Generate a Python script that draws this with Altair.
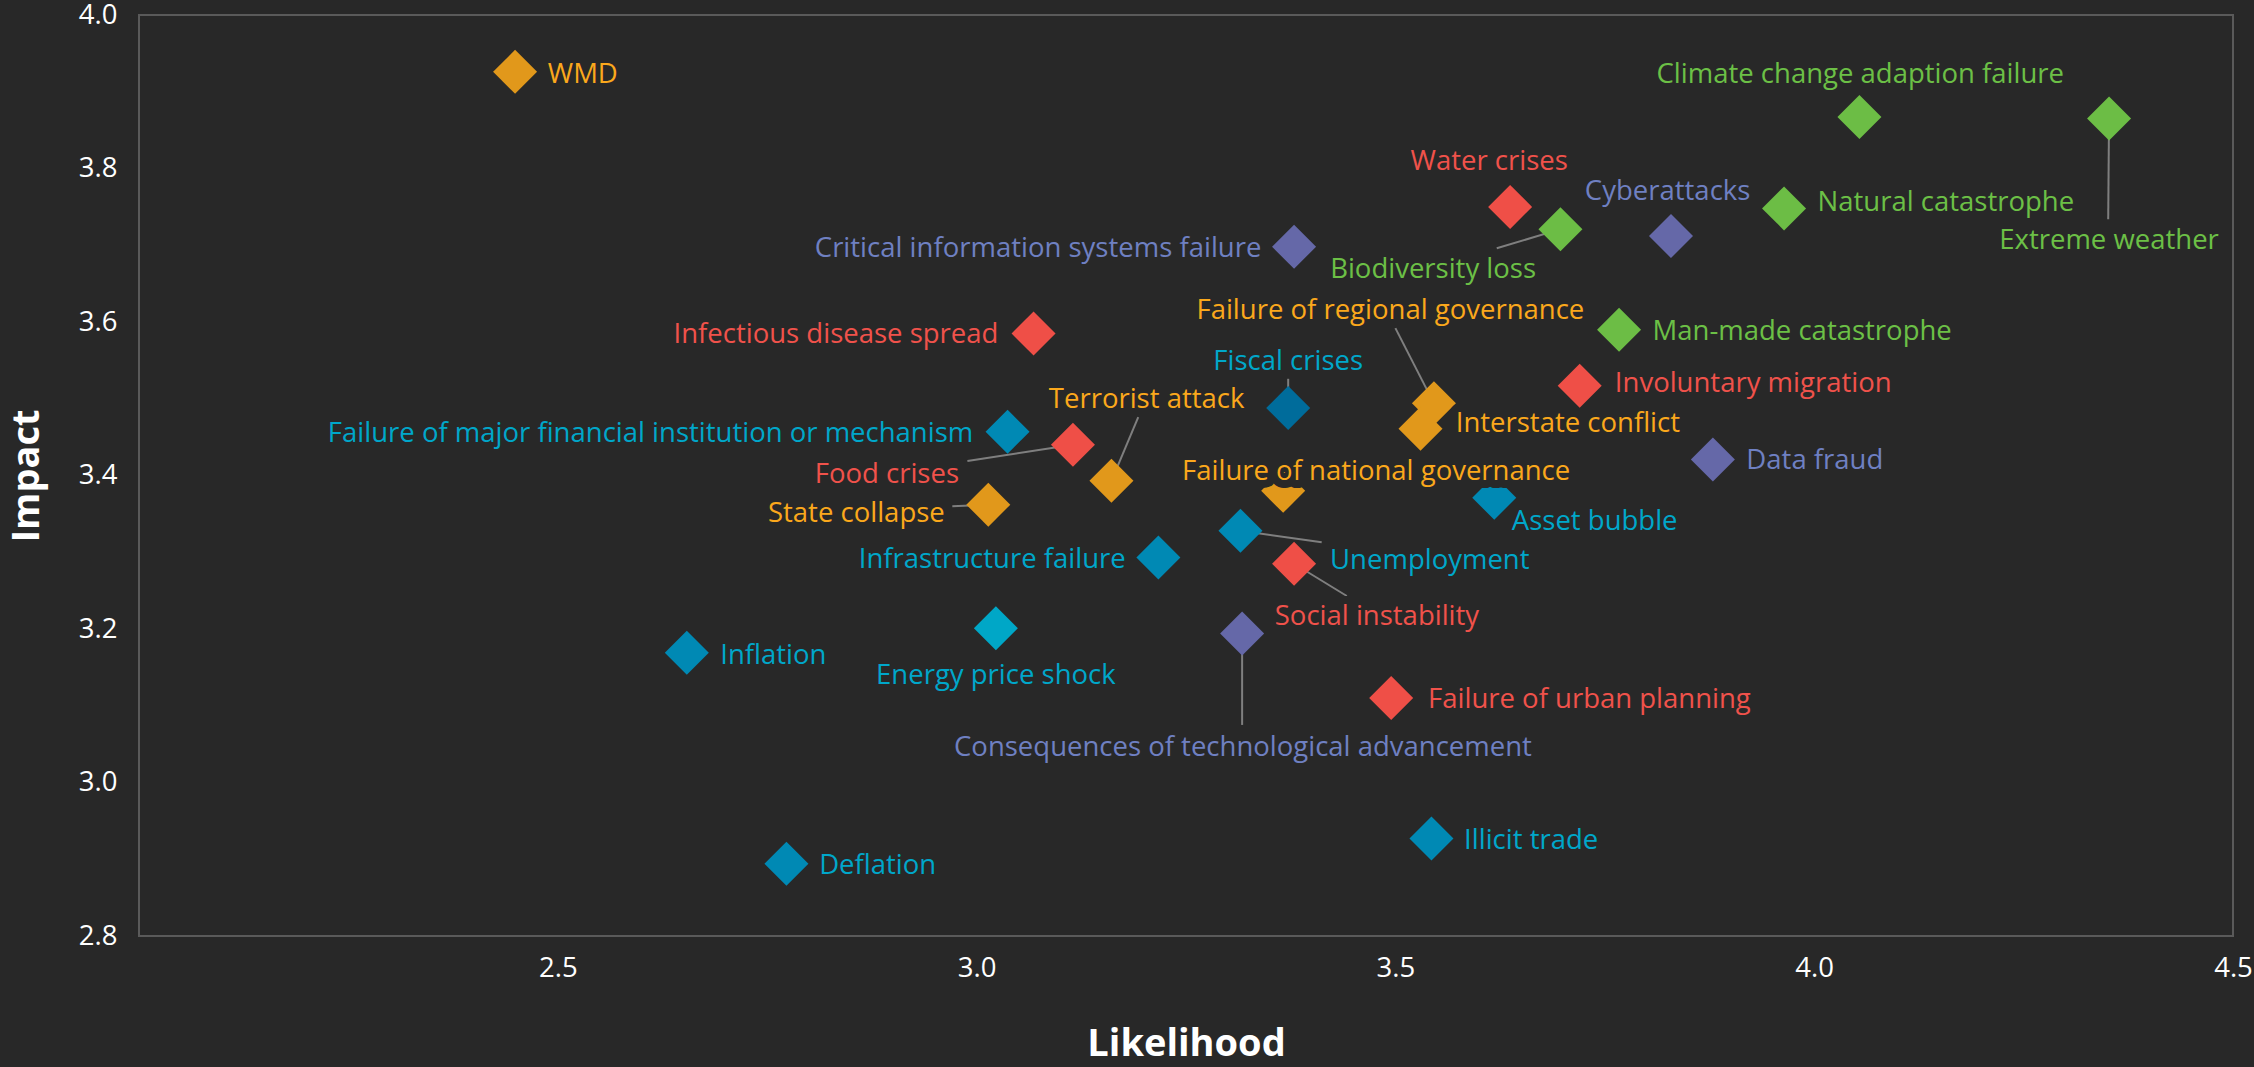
import altair as alt
import pandas as pd

# ---------------- data ----------------
names = [
    "WMD", "Climate change adaption failure", "Extreme weather", "Water crises",
    "Biodiversity loss", "Cyberattacks", "Natural catastrophe",
    "Critical information systems failure", "Infectious disease spread",
    "Man-made catastrophe", "Fiscal crises", "Failure of regional governance",
    "Interstate conflict", "Involuntary migration",
    "Failure of major financial institution or mechanism", "Food crises",
    "Terrorist attack", "State collapse", "Failure of national governance",
    "Asset bubble", "Data fraud", "Unemployment", "Social instability",
    "Infrastructure failure", "Energy price shock",
    "Consequences of technological advancement", "Inflation",
    "Failure of urban planning", "Illicit trade", "Deflation",
]
likelihood = [
    2.449, 4.054, 4.352, 3.637, 3.697, 3.829, 3.964, 3.379, 3.068, 3.767,
    3.372, 3.546, 3.530, 3.720, 3.037, 3.115, 3.161, 3.014, 3.366, 3.618,
    3.879, 3.315, 3.379, 3.217, 3.023, 3.317, 2.654, 3.495, 3.543, 2.773,
]
impact = [
    3.926, 3.867, 3.865, 3.750, 3.721, 3.712, 3.748, 3.698, 3.585, 3.590,
    3.488, 3.494, 3.461, 3.517, 3.457, 3.440, 3.393, 3.362, 3.380, 3.371,
    3.421, 3.328, 3.285, 3.293, 3.201, 3.194, 3.169, 3.110, 2.927, 2.894,
]
category = [
    "Geopolitical", "Environmental", "Environmental", "Societal",
    "Environmental", "Technological", "Environmental", "Technological",
    "Societal", "Environmental", "Economic", "Geopolitical", "Geopolitical",
    "Societal", "Economic", "Societal", "Geopolitical", "Geopolitical",
    "Geopolitical", "Economic", "Technological", "Economic", "Societal",
    "Economic", "Economic", "Technological", "Economic", "Societal",
    "Economic", "Economic",
]
# label anchor positions, in axis units
label_x = [
    2.488, 4.055, 4.352, 3.612, 3.545, 3.825, 4.004, 3.340, 3.026, 3.807,
    3.372, 3.494, 3.572, 3.762, 2.996, 2.979, 3.203, 2.962, 3.477, 3.639,
    3.919, 3.422, 3.356, 3.178, 3.023, 3.318, 2.694, 3.539, 3.582, 2.812,
]
label_y = [
    3.912, 3.912, 3.695, 3.798, 3.657, 3.759, 3.745, 3.685, 3.572, 3.577,
    3.537, 3.604, 3.457, 3.509, 3.443, 3.390, 3.488, 3.340, 3.394, 3.329,
    3.408, 3.278, 3.205, 3.279, 3.128, 3.035, 3.155, 3.097, 2.914, 2.881,
]
label_align = [
    "left", "center", "center", "center", "center", "center", "left", "right",
    "right", "left", "center", "center", "left", "left", "right", "right",
    "center", "right", "center", "left", "left", "left", "left", "right",
    "center", "center", "left", "left", "left", "left",
]
# leader lines: label-side end, in axis units
leader_names = [
    "Extreme weather", "Biodiversity loss", "Fiscal crises",
    "Failure of regional governance", "Food crises", "Terrorist attack",
    "State collapse", "Unemployment", "Social instability",
    "Consequences of technological advancement",
]
leader_x = [4.351, 3.621, 3.372, 3.500, 2.989, 3.193, 2.971, 3.412, 3.442, 3.317]
leader_y = [3.734, 3.696, 3.526, 3.592, 3.419, 3.476, 3.360, 3.313, 3.243, 3.075]

x_ticks = [2.5, 3.0, 3.5, 4.0, 4.5]
y_ticks = [2.8, 3.0, 3.2, 3.4, 3.6, 3.8, 4.0]

# ---------------- styling ----------------
BG = "#282828"
FONT = "Open Sans"
marker_domain = ["Geopolitical", "Societal", "Environmental", "Economic",
                 "Economic (dark)", "Economic (light)", "Technological"]
marker_range = ["#E1981B", "#EF4F47", "#6CBD45", "#0089B4",
                "#006C9B", "#00A7C7", "#6568A8"]
text_domain = ["Geopolitical", "Societal", "Environmental", "Economic", "Technological"]
text_range = ["#FBA81C", "#F0524B", "#6CC046", "#00A7CA", "#6F80C2"]
shade = {"Fiscal crises": "Economic (dark)", "Energy price shock": "Economic (light)"}

df = pd.DataFrame({
    "name": names, "likelihood": likelihood, "impact": impact,
    "category": category, "label_x": label_x, "label_y": label_y,
    "align": label_align,
})
df["marker"] = [shade.get(n, c) for n, c in zip(names, category)]

lead = pd.DataFrame({"name": leader_names, "lx": leader_x, "ly": leader_y})
lead = lead.merge(df[["name", "likelihood", "impact"]], on="name")

xscale = alt.Scale(domain=[2.0, 4.5], nice=False, zero=False)
yscale = alt.Scale(domain=[2.8, 4.0], nice=False, zero=False)

x_axis = alt.Axis(
    values=x_ticks, format=".1f", grid=False, ticks=False, domain=False,
    labelFont=FONT, labelFontSize=27.5, labelColor="#FFFFFF", labelPadding=18,
    labelFlush=False, labelOverlap=False,
    title="Likelihood", titleFont=FONT, titleFontSize=38, titleFontWeight="bold",
    titleColor="#FFFFFF", titleBaseline="alphabetic", titleY=119,
)
y_axis = alt.Axis(
    values=y_ticks, format=".1f", grid=False, ticks=False, domain=False,
    labelFont=FONT, labelFontSize=27.5, labelColor="#FFFFFF", labelPadding=22,
    labelFlush=False, labelOverlap=False,
    title="Impact", titleFont=FONT, titleFontSize=38, titleFontWeight="bold",
    titleColor="#FFFFFF", titleBaseline="alphabetic", titleAngle=270,
    titleX=-101, titleY=460.5, titleAlign="center",
)


def X(field):
    return alt.X(field, type="quantitative", scale=xscale, axis=x_axis)


def Y(field):
    return alt.Y(field, type="quantitative", scale=yscale, axis=y_axis)


leaders = alt.Chart(lead).mark_rule(color="#7F7F7F", strokeWidth=2).encode(
    x=X("likelihood"), y=Y("impact"), x2="lx:Q", y2="ly:Q",
)

points = alt.Chart(df).mark_point(
    shape="diamond", filled=True, size=1936, opacity=1, strokeWidth=0
).encode(
    x=X("likelihood"), y=Y("impact"),
    color=alt.Color("marker:N", scale=alt.Scale(domain=marker_domain, range=marker_range), legend=None),
)

halos = []
texts = []
for al in ["left", "center", "right"]:
    sub = alt.Chart(df).transform_filter(alt.datum.align == al)
    halos.append(sub.mark_text(
        align=al, baseline="alphabetic", font=FONT, fontSize=27.5,
        fill=BG, stroke=BG, strokeWidth=16, strokeJoin="round",
    ).encode(x=X("label_x"), y=Y("label_y"), text="name:N"))
    texts.append(sub.mark_text(
        align=al, baseline="alphabetic", font=FONT, fontSize=27.5,
    ).encode(
        x=X("label_x"), y=Y("label_y"), text="name:N",
        color=alt.Color("category:N", scale=alt.Scale(domain=text_domain, range=text_range), legend=None),
    ))

chart = alt.layer(leaders, points, *halos, *texts).resolve_scale(color="independent").properties(
    width=2094, height=921,
    autosize=alt.AutoSizeParams(type="none"),
    padding={"left": 139, "top": 15, "right": 21, "bottom": 131},
    background=BG,
).configure_view(stroke="#5A5A5A", strokeWidth=2)

chart.save("out.html", embed_options={"renderer": "svg", "actions": False})
